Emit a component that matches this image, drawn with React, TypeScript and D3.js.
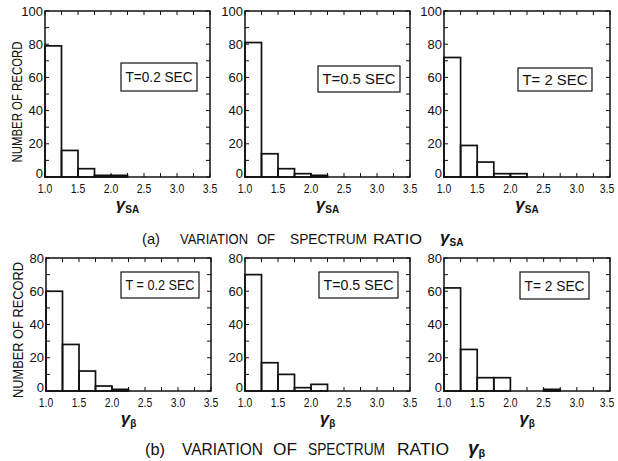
import React from "react";
import * as d3 from "d3";

const binStarts = [1.0, 1.25, 1.5, 1.75, 2.0, 2.25, 2.5, 2.75, 3.0, 3.25];
const xTickLabels = ["1.0", "1.5", "2.0", "2.5", "3.0", "3.5"];

const saT02 = [79, 16, 5, 1, 1, 0, 0, 0, 0, 0];
const saT05 = [81, 14, 5, 2, 1, 0, 0, 0, 0, 0];
const saT2 = [72, 19, 9, 2, 2, 0, 0, 0, 0, 0];
const bT02 = [60, 28, 12, 3, 1, 0, 0, 0, 0, 0];
const bT05 = [70, 17, 10, 2, 4, 0, 0, 0, 0, 0];
const bT2 = [62, 25, 8, 8, 0, 0, 1, 0, 0, 0];

const topYTicks = [0, 20, 40, 60, 80, 100];
const botYTicks = [0, 20, 40, 60, 80];

const legendTop = ["T=0.2 SEC", "T=0.5 SEC", "T= 2 SEC"];
const legendBot = ["T = 0.2 SEC", "T=0.5 SEC", "T= 2 SEC"];

const FONT = "'Liberation Sans', 'DejaVu Sans', sans-serif";

type PanelProps = {
  x0: number;
  x1: number;
  y0: number;
  y1: number;
  yMax: number;
  yTicks: number[];
  values: number[];
  legend: string;
  box: [number, number, number, number];
  sub: string;
  yTitle: null | { x: number; cy: number; len: number };
};

function Panel(p: PanelProps) {
  const x = d3.scaleLinear().domain([1.0, 3.5]).range([p.x0, p.x1]);
  const y = d3.scaleLinear().domain([0, p.yMax]).range([p.y1, p.y0]);
  const minorX = d3.range(1.0, 3.5001, 0.25);
  const minorY = d3.range(0, p.yMax + 0.001, 10);
  const tk = 4;
  const [bx0, by0, bx1, by1] = p.box;
  return (
    <g>
      {p.values.map((v, i) =>
        v > 0 ? (
          <rect
            key={"b" + i}
            x={x(binStarts[i])}
            y={y(v)}
            width={x(binStarts[i] + 0.25) - x(binStarts[i])}
            height={y(0) - y(v)}
            fill="none"
            stroke="#111"
            strokeWidth={1.7}
          />
        ) : null
      )}
      <rect x={p.x0} y={p.y0} width={p.x1 - p.x0} height={p.y1 - p.y0} fill="none" stroke="#111" strokeWidth={1.5} />
      {minorX.map((t, i) => (
        <g key={"xt" + i}>
          <line x1={x(t)} x2={x(t)} y1={p.y1} y2={p.y1 - tk} stroke="#111" strokeWidth={1} />
          <line x1={x(t)} x2={x(t)} y1={p.y0} y2={p.y0 + tk} stroke="#111" strokeWidth={1} />
        </g>
      ))}
      {minorY.map((t, i) => (
        <g key={"yt" + i}>
          <line x1={p.x0} x2={p.x0 + tk} y1={y(t)} y2={y(t)} stroke="#111" strokeWidth={1} />
          <line x1={p.x1} x2={p.x1 - tk} y1={y(t)} y2={y(t)} stroke="#111" strokeWidth={1} />
        </g>
      ))}
      {xTickLabels.map((l, i) => (
        <text
          key={"xl" + i}
          x={Math.min(x(+l), 607)}
          y={p.y1 + 16}
          textAnchor="middle"
          fontSize={13}
          fontFamily={FONT}
          textLength={14.5}
          lengthAdjust="spacingAndGlyphs"
          fill="#111"
        >
          {l}
        </text>
      ))}
      {p.yTicks.map((t, i) => (
        <text
          key={"yl" + i}
          x={p.x0 - 2}
          y={t === 0 ? y(t) + 1 : y(t) + 4.5}
          textAnchor="end"
          fontSize={13}
          fontFamily={FONT}
          fill="#111"
        >
          {t}
        </text>
      ))}
      <rect x={bx0} y={by0} width={bx1 - bx0} height={by1 - by0} fill="none" stroke="#111" strokeWidth={1.2} />
      <text
        x={(bx0 + bx1) / 2}
        y={(by0 + by1) / 2 + 5}
        textAnchor="middle"
        fontSize={14}
        fontFamily={FONT}
        textLength={bx1 - bx0 - 9}
        lengthAdjust="spacingAndGlyphs"
        fill="#111"
      >
        {p.legend}
      </text>
      <text x={(p.x0 + p.x1) / 2} y={p.y1 + 33} textAnchor="middle" fontFamily={FONT} fill="#111">
        <tspan fontSize={17} fontStyle="italic" fontWeight="bold">γ</tspan>
        <tspan fontSize={10} fontWeight="bold" dy={3}>{p.sub}</tspan>
      </text>
      {p.yTitle && (
        <text
          transform={`translate(${p.yTitle.x},${p.yTitle.cy}) rotate(-90)`}
          textAnchor="middle"
          fontSize={14}
          fontFamily={FONT}
          textLength={p.yTitle.len}
          lengthAdjust="spacingAndGlyphs"
          fill="#111"
        >
          NUMBER OF RECORD
        </text>
      )}
    </g>
  );
}

type Word = { t: string; x: number; w: number };
const captionA: Word[] = [
  { t: "(a)", x: 142, w: 18 },
  { t: "VARIATION", x: 180, w: 68 },
  { t: "OF", x: 257, w: 18 },
  { t: "SPECTRUM", x: 290, w: 77 },
  { t: "RATIO", x: 373, w: 49 },
];
const captionB: Word[] = [
  { t: "(b)", x: 145, w: 20 },
  { t: "VARIATION", x: 182, w: 81 },
  { t: "OF", x: 273, w: 24 },
  { t: "SPECTRUM", x: 308, w: 77 },
  { t: "RATIO", x: 397, w: 52 },
];

export default function App() {
  const topX = [
    [45, 210],
    [245, 410],
    [444, 610],
  ];
  const botX = [
    [46, 211],
    [245, 410],
    [444, 610],
  ];
  const topVals = [saT02, saT05, saT2];
  const botVals = [bT02, bT05, bT2];
  const topBoxes: [number, number, number, number][] = [
    [121, 63, 197, 91],
    [318, 66, 400, 92],
    [518, 68, 592, 91],
  ];
  const botBoxes: [number, number, number, number][] = [
    [121, 272, 199, 298],
    [319, 272, 398, 298],
    [520, 272, 589, 299],
  ];
  return (
    <svg width={618} height={461} style={{ position: "absolute", left: 0, top: 0, background: "#fff" }}>
      <rect x={0} y={0} width={618} height={461} fill="#fff" />
      {topX.map((xx, i) => (
        <Panel
          key={"t" + i}
          x0={xx[0]}
          x1={xx[1]}
          y0={11}
          y1={177}
          yMax={100}
          yTicks={topYTicks}
          values={topVals[i]}
          legend={legendTop[i]}
          box={topBoxes[i]}
          sub="SA"
          yTitle={i === 0 ? { x: 22, cy: 102, len: 121 } : null}
        />
      ))}
      {botX.map((xx, i) => (
        <Panel
          key={"b" + i}
          x0={xx[0]}
          x1={xx[1]}
          y0={258}
          y1={391}
          yMax={80}
          yTicks={botYTicks}
          values={botVals[i]}
          legend={legendBot[i]}
          box={botBoxes[i]}
          sub="β"
          yTitle={i === 0 ? { x: 23, cy: 330, len: 136 } : null}
        />
      ))}
      {captionA.map((w, i) => (
        <text key={"ca" + i} x={w.x} y={244} fontSize={15} fontFamily={FONT} textLength={w.w} lengthAdjust="spacingAndGlyphs" fill="#111">
          {w.t}
        </text>
      ))}
      <text x={440} y={243} fontFamily={FONT} fill="#111">
        <tspan fontSize={17} fontStyle="italic" fontWeight="bold">γ</tspan>
        <tspan fontSize={10} fontWeight="bold" dy={3}>SA</tspan>
      </text>
      {captionB.map((w, i) => (
        <text key={"cb" + i} x={w.x} y={455} fontSize={16.5} fontFamily={FONT} textLength={w.w} lengthAdjust="spacingAndGlyphs" fill="#111">
          {w.t}
        </text>
      ))}
      <text x={468} y={454} fontFamily={FONT} fill="#111">
        <tspan fontSize={19} fontStyle="italic" fontWeight="bold">γ</tspan>
        <tspan fontSize={11} fontWeight="bold" dy={3}>β</tspan>
      </text>
    </svg>
  );
}
